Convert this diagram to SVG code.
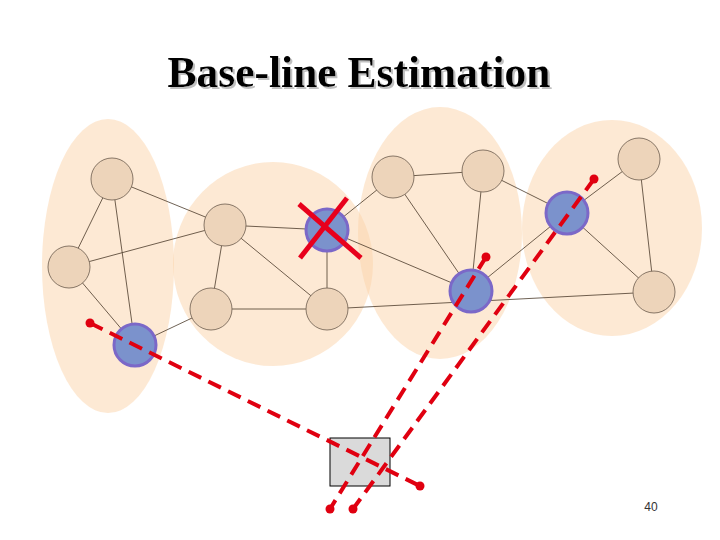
<svg xmlns="http://www.w3.org/2000/svg" width="720" height="540" viewBox="0 0 720 540">
<defs>
<filter id="sh" x="-5%" y="-20%" width="110%" height="140%">
<feDropShadow dx="2" dy="2" stdDeviation="0.6" flood-color="#b0b0b0" flood-opacity="0.8"/>
</filter>
<style>
.cl{fill:#FBD3AA;fill-opacity:0.5;stroke:none}
.e{stroke:#4a3a2a;stroke-width:0.8;fill:none}
.n{fill:#EDD4BA;stroke:#7a6a5a;stroke-width:0.9}
.b{fill:#7B92CC;stroke:#7B68C8;stroke-width:3}
.rd{stroke:#E00010;stroke-width:4;stroke-dasharray:14 8;fill:none}
.dot{fill:#E00010}
.x{stroke:#E8001C;stroke-width:5;stroke-linecap:butt}
.t{font-family:"Liberation Serif","Times New Roman",serif;font-weight:bold;font-size:43.5px;text-anchor:middle}
</style>
</defs>
<rect width="720" height="540" fill="#ffffff"/>
<text class="t" x="359" y="87" fill="#000" filter="url(#sh)">Base-line Estimation</text>
<g id="clusters">
<ellipse class="cl" cx="108" cy="266" rx="66" ry="147"/>
<ellipse class="cl" cx="273" cy="264" rx="100" ry="102"/>
<ellipse class="cl" cx="440" cy="233" rx="82" ry="126"/>
<ellipse class="cl" cx="612" cy="228" rx="90" ry="108"/>
</g>
<g id="connectors">
<line class="e" x1="112" y1="179" x2="69" y2="267"/>
<line class="e" x1="112" y1="179" x2="135" y2="345"/>
<line class="e" x1="69" y1="267" x2="135" y2="345"/>
<line class="e" x1="112" y1="179" x2="225" y2="225"/>
<line class="e" x1="69" y1="267" x2="225" y2="225"/>
<line class="e" x1="135" y1="345" x2="211" y2="309"/>
<line class="e" x1="225" y1="225" x2="327" y2="230"/>
<line class="e" x1="225" y1="225" x2="211" y2="309"/>
<line class="e" x1="225" y1="225" x2="327" y2="309"/>
<line class="e" x1="211" y1="309" x2="327" y2="309"/>
<line class="e" x1="327" y1="230" x2="327" y2="309"/>
<line class="e" x1="327" y1="230" x2="393" y2="177"/>
<line class="e" x1="327" y1="230" x2="471" y2="291"/>
<line class="e" x1="327" y1="309" x2="654" y2="292"/>
<line class="e" x1="393" y1="177" x2="483" y2="171"/>
<line class="e" x1="393" y1="177" x2="471" y2="291"/>
<line class="e" x1="483" y1="171" x2="471" y2="291"/>
<line class="e" x1="483" y1="171" x2="567" y2="213"/>
<line class="e" x1="471" y1="291" x2="567" y2="213"/>
<line class="e" x1="567" y1="213" x2="639" y2="159"/>
<line class="e" x1="567" y1="213" x2="654" y2="292"/>
<line class="e" x1="639" y1="159" x2="654" y2="292"/>
</g>
<g id="nA"><circle class="n" cx="112" cy="179" r="21"/></g>
<g id="nB"><circle class="n" cx="69" cy="267" r="21"/></g>
<g id="nC"><circle class="b" cx="135" cy="345" r="21"/></g>
<g id="nD"><circle class="n" cx="225" cy="225" r="21"/></g>
<g id="nE"><circle class="b" cx="327" cy="230" r="21"/></g>
<g id="nF"><circle class="n" cx="211" cy="309" r="21"/></g>
<g id="nG"><circle class="n" cx="327" cy="309" r="21"/></g>
<g id="nH"><circle class="n" cx="393" cy="177" r="21"/></g>
<g id="nI"><circle class="n" cx="483" cy="171" r="21"/></g>
<g id="nJ"><circle class="b" cx="471" cy="291" r="21"/></g>
<g id="nK"><circle class="b" cx="567" cy="213" r="21"/></g>
<g id="nL"><circle class="n" cx="639" cy="159" r="21"/></g>
<g id="nM"><circle class="n" cx="654" cy="292" r="21"/></g>
<g id="box"><rect x="330" y="438" width="60" height="48" fill="#DADADA" stroke="#000" stroke-width="1"/></g>
<g id="ranges">
<line class="rd" x1="90" y1="323" x2="420" y2="486"/>
<line class="rd" x1="486" y1="257" x2="330" y2="509"/>
<line class="rd" x1="594" y1="179" x2="353" y2="509"/>
<circle class="dot" cx="90" cy="323" r="4.5"/>
<circle class="dot" cx="420" cy="486" r="4.5"/>
<circle class="dot" cx="486" cy="257" r="4.5"/>
<circle class="dot" cx="330" cy="509" r="4.5"/>
<circle class="dot" cx="594" cy="179" r="4.5"/>
<circle class="dot" cx="353" cy="509" r="4.5"/>
</g>
<g id="cross">
<line class="x" x1="299" y1="204" x2="361" y2="258"/>
<line class="x" x1="347" y1="198" x2="300" y2="258"/>
</g>
<text x="651" y="511" font-family="Liberation Sans,Arial,sans-serif" font-size="12" fill="#333" text-anchor="middle">40</text>
</svg>
